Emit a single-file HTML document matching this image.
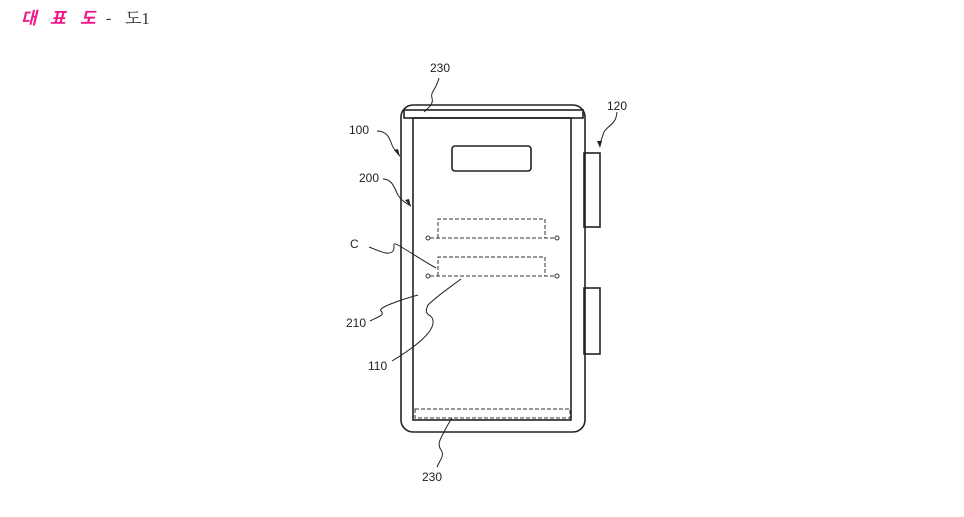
<!DOCTYPE html>
<html><head><meta charset="utf-8"><style>
body{margin:0;background:#fff;width:964px;height:517px;overflow:hidden}
svg{position:absolute;left:0;top:0}
.t{font-family:"Liberation Sans",sans-serif;font-size:12px;fill:#222}
.k{font-family:"Noto Sans CJK KR",sans-serif;font-size:17px;font-weight:bold;font-style:italic;fill:#f0178a}
</style></head><body>
<svg width="964" height="517" xmlns="http://www.w3.org/2000/svg">
<text class="k" x="21" y="24">대</text>
<text class="k" x="50" y="24">표</text>
<text class="k" x="80" y="24">도</text>
<text x="106" y="23" font-family="'Liberation Serif',serif" font-size="16" fill="#333">-</text>
<text x="125" y="24" font-family="'Liberation Serif','Noto Serif CJK KR',serif" font-size="17" fill="#333">도1</text>
<g fill="none" stroke="#222" stroke-width="1.6">
<rect x="401" y="105" width="184" height="327" rx="12"/>
<rect x="404" y="110" width="179" height="8"/>
<rect x="413" y="118" width="158" height="302"/>
<rect x="452" y="146" width="79" height="25" rx="3"/>
<rect x="584" y="153" width="16" height="74"/>
<rect x="584" y="288" width="16" height="66"/>
</g>
<g fill="none" stroke="#333" stroke-width="1" stroke-dasharray="4,2">
<polyline points="438,238 438,219 545,219 545,238"/>
<line x1="430" y1="238" x2="555" y2="238"/>
<polyline points="438,276 438,257 545,257 545,276"/>
<line x1="430" y1="276" x2="555" y2="276"/>
<rect x="415" y="409" width="155" height="9"/>
</g>
<g fill="#fff" stroke="#333" stroke-width="1">
<circle cx="428" cy="238" r="2"/><circle cx="557" cy="238" r="2"/>
<circle cx="428" cy="276" r="2"/><circle cx="557" cy="276" r="2"/>
</g>
<g fill="none" stroke="#222" stroke-width="1">
<path d="M439,78 C436,90 430,92 432,98 C434,104 428,108 424,112"/>
<path d="M377,131 C388,131 390,140 392,145 C394,150 398,154 400,156"/>
<path d="M383,179 C393,179 395,190 398,195 C401,200 407,204 411,206"/>
<path d="M617,112 C616,125 608,125 604,132 C602,138 600,142 600,146"/>
<path d="M369,247 C382,252 387,255 392,252 C397,248 390,241 398,245 C410,252 425,262 436,268"/>
<path d="M370,321 C380,316 385,315 381,311 C377,308 400,300 418,295"/>
<path d="M392,361 C410,350 432,335 433,323 C434,312 422,318 428,305 C438,295 452,286 461,279"/>
<path d="M437,467 C440,460 445,455 441,450 C437,444 440,440 444,432 C447,426 450,421 452,418"/>
</g>
<g fill="#222">
<polygon points="400,157 394,150 398,149"/>
<polygon points="411,207 405,200 409,199"/>
<polygon points="600,148 597,141 602,141"/>
</g>
<text class="t" x="430" y="72">230</text>
<text class="t" x="607" y="110">120</text>
<text class="t" x="349" y="134">100</text>
<text class="t" x="359" y="182">200</text>
<text class="t" x="350" y="248">C</text>
<text class="t" x="346" y="327">210</text>
<text class="t" x="368" y="370">110</text>
<text class="t" x="422" y="481">230</text>
</svg>
</body></html>
